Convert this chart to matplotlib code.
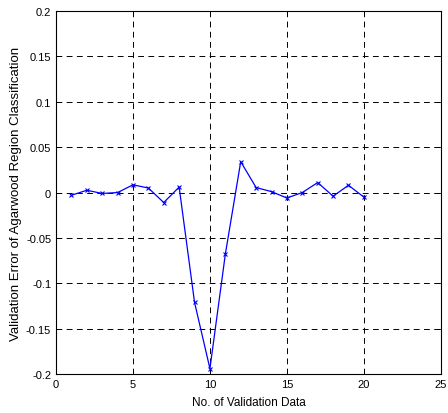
import matplotlib
matplotlib.use("Agg")
import matplotlib.pyplot as plt

x_vals = list(range(1, 21))
errors = [-0.003, 0.0025, -0.001, 0.0, 0.0085, 0.005, -0.011, 0.006,
          -0.121, -0.194, -0.068, 0.034, 0.0055, 0.001, -0.006, 0.0,
          0.011, -0.004, 0.008, -0.005]
x_ticks = [0, 5, 10, 15, 20, 25]
y_ticks = [-0.2, -0.15, -0.1, -0.05, 0, 0.05, 0.1, 0.15, 0.2]
y_tick_labels = ["-0.2", "-0.15", "-0.1", "-0.05", "0", "0.05", "0.1", "0.15", "0.2"]

plt.rcParams['font.family'] = ['Liberation Sans', 'DejaVu Sans']
fig = plt.figure(figsize=(4.48, 4.14), dpi=100)
ax = fig.add_axes([0.125, 0.094, 0.859, 0.877])
ax.plot(x_vals, errors, color='#0000ff', lw=0.9, marker='x', markersize=3.5,
        markeredgewidth=0.8)
ax.set_xlim(0, 25)
ax.set_ylim(-0.2, 0.2)
ax.set_xticks(x_ticks)
ax.set_yticks(y_ticks)
ax.set_yticklabels(y_tick_labels)
ax.grid(True, color='black', linestyle=(0, (6, 4.5)), linewidth=0.7)
ax.tick_params(direction='in', labelsize=8, length=3, width=0.6, top=True, right=True)
for s in ax.spines.values():
    s.set_linewidth(0.8)
ax.set_xlabel("No. of Validation Data", fontsize=8.5, labelpad=5)
ax.set_ylabel("Validation Error of Agarwood Region Classification", fontsize=9.5, labelpad=3)
fig.savefig("out.png", dpi=100)
